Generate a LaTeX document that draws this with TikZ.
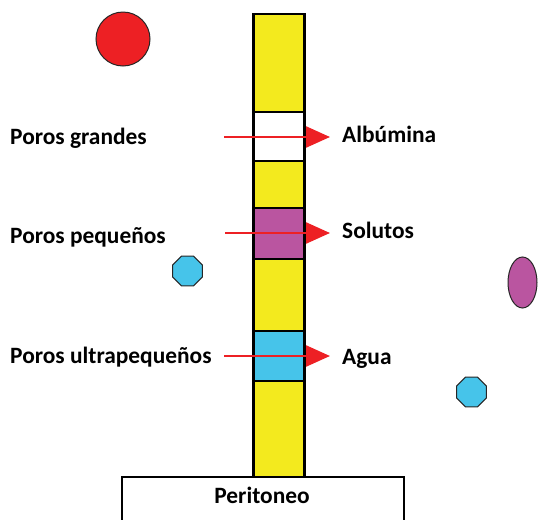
\documentclass[tikz,border=0pt]{standalone}
\usepackage{fontspec}
\setmainfont{Carlito}
\usetikzlibrary{arrows.meta,shapes.geometric}
\definecolor{colyellow}{RGB}{243,234,30}
\definecolor{colpurple}{RGB}{186,85,160}
\definecolor{colblue}{RGB}{70,196,234}
\definecolor{colred}{RGB}{237,32,36}
\tikzset{
  band/.style={draw=black,line width=2.7pt,inner sep=0pt,minimum width=51pt,outer sep=0pt},
  lbl/.style={inner sep=0pt,font=\fontsize{23.4}{28}\selectfont\bfseries,text=black},
  flow/.style={draw=colred,line width=2.4pt,-{Triangle[length=24pt,width=21pt]},fill=colred},
  octa/.style={regular polygon,regular polygon sides=8,draw=black!85,line width=1pt,fill=colblue,minimum size=32pt,inner sep=0pt},
}
\begin{document}
\begin{tikzpicture}[x=1pt,y=-1pt]
\useasboundingbox (0,0) rectangle (539,520);
% column bands
\node[band,fill=colyellow,minimum height=98pt] (b1) at (279,63) {};
\node[band,fill=white,minimum height=49pt] (b2) at (279,136.5) {};
\node[band,fill=colyellow,minimum height=47pt] (b3) at (279,184.5) {};
\node[band,fill=colpurple,minimum height=51pt] (b4) at (279,233.5) {};
\node[band,fill=colyellow,minimum height=72pt] (b5) at (279,295) {};
\node[band,fill=colblue,minimum height=50pt] (b6) at (279,356) {};
\node[band,fill=colyellow,minimum height=96pt] (b7) at (279,429) {};
% peritoneo box
\draw[line width=1.6pt] (122,521) -- (122,477) -- (404,477) -- (404,521);
\node[lbl,anchor=base] (per) at (262,503) {Peritoneo};
% left labels
\node[lbl,anchor=base west] (l1) at (10,144) {Poros grandes};
\node[lbl,anchor=base west] (l2) at (10,243) {Poros peque\~nos};
\node[lbl,anchor=base west] (l3) at (10,363) {Poros ultrapeque\~nos};
% right labels
\node[lbl,anchor=base west] (r1) at (342,142) {Alb\'umina};
\node[lbl,anchor=base west] (r2) at (342,238) {Solutos};
\node[lbl,anchor=base west] (r3) at (342,364) {Agua};
% arrows
\coordinate (s1) at (224,137);
\coordinate (e1) at (330,137);
\coordinate (s2) at (225,233);
\coordinate (e2) at (330,233);
\coordinate (s3) at (224,356);
\coordinate (e3) at (330,356);
\draw[flow] (s1) -- (e1);
\draw[flow] (s2) -- (e2);
\draw[flow] (s3) -- (e3);
% particles
\node[circle,draw=black!85,line width=1pt,fill=colred,minimum size=54pt,inner sep=0pt] (red) at (123,39) {};
\node[octa] (o1) at (187.5,271) {};
\node[octa] (o2) at (471.5,392) {};
\node[ellipse,draw=black!85,line width=1pt,fill=colpurple,minimum width=29pt,minimum height=51pt,inner sep=0pt] (ell) at (522.5,282.5) {};
\end{tikzpicture}
\end{document}
